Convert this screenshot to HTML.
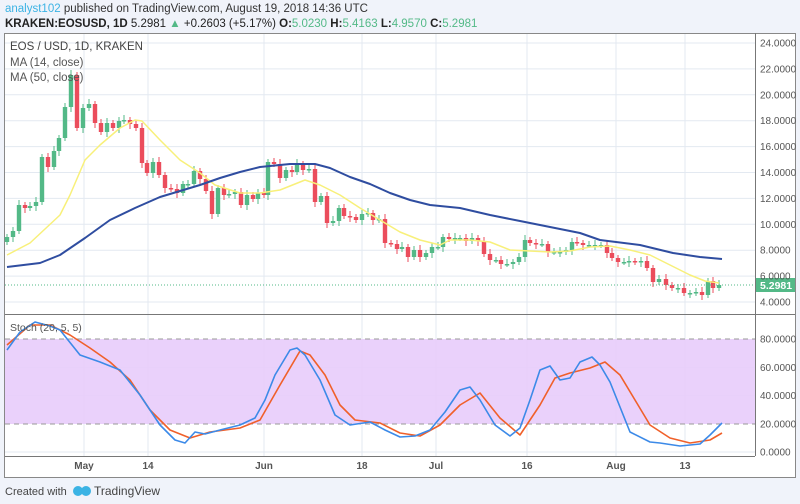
<!DOCTYPE html>
<html><head><meta charset="utf-8"><style>
body{margin:0;width:800px;height:504px;background:#f0f3fa;overflow:hidden;font-family:"Liberation Sans",sans-serif;}
</style></head><body>
<svg id="s" width="800" height="504" xmlns="http://www.w3.org/2000/svg" style="position:absolute;left:0;top:0">
<rect x="0" y="0" width="800" height="504" fill="#f0f3fa"/>
<text x="5" y="12" font-size="11.5" fill="#333"><tspan fill="#3bb3e4">analyst102</tspan> published on TradingView.com, August 19, 2018 14:36 UTC</text>
<text x="5" y="27" font-size="11.5" fill="#222"><tspan font-weight="bold">KRAKEN:EOSUSD, 1D</tspan> 5.2981 <tspan fill="#53b987">▲</tspan> +0.2603 (+5.17%) <tspan font-weight="bold">O:</tspan><tspan fill="#53b987">5.0230</tspan> <tspan font-weight="bold">H:</tspan><tspan fill="#53b987">5.4163</tspan> <tspan font-weight="bold">L:</tspan><tspan fill="#53b987">4.9570</tspan> <tspan font-weight="bold">C:</tspan><tspan fill="#53b987">5.2981</tspan></text>
<rect x="4.5" y="33.5" width="791" height="444" fill="#fff" stroke="#888"/>
<g id="grid"></g>
<rect x="5" y="339" width="750" height="85" fill="#e8ccfb" opacity="0.9"/>
<line x1="5" y1="339" x2="755" y2="339" stroke="#999" stroke-dasharray="5,4"/>
<line x1="5" y1="424" x2="755" y2="424" stroke="#999" stroke-dasharray="5,4"/>
<g id="c"></g>
<line x1="755.5" y1="33" x2="755.5" y2="456" stroke="#777"/>
<line x1="5" y1="314.5" x2="795" y2="314.5" stroke="#777"/>
<line x1="5" y1="456.5" x2="755" y2="456.5" stroke="#777"/>
<g id="ax" font-size="10" fill="#555"></g>
<text x="10" y="50" font-size="11.5" fill="#444">EOS / USD, 1D, KRAKEN</text>
<text x="10" y="66" font-size="11.5" fill="#555">MA (14, close)</text>
<text x="10" y="81" font-size="11.5" fill="#555">MA (50, close)</text>
<text x="10" y="331" font-size="10.5" fill="#555">Stoch (20, 5, 5)</text>
<text x="5" y="495" font-size="11" fill="#444">Created with</text>
<circle cx="78" cy="491" r="5" fill="#3bb3e4"/><circle cx="86" cy="491" r="5" fill="#3bb3e4"/>
<text x="94" y="495" font-size="12" fill="#444">TradingView</text>
</svg>
<script>
var S=document.getElementById('s'),ns='http://www.w3.org/2000/svg';
function el(p,t,a,tx){var e=document.createElementNS(ns,t);for(var k in a)e.setAttribute(k,a[k]);if(tx)e.textContent=tx;document.getElementById(p).appendChild(e);return e;}
function py(p){return 43+(24-p)*12.95;}
var gc='#e3e9f1';
for(var p=4;p<=24;p+=2){var y=py(p);el('grid','line',{x1:5,x2:755,y1:y,y2:y,stroke:gc});el('ax','text',{x:760,y:y+3.5},p.toFixed(4));}
[0,20,40,60,80].forEach(function(v){var y=452-1.41*v;if(v!=20&&v!=80)el('grid','line',{x1:5,x2:755,y1:y,y2:y,stroke:gc});el('ax','text',{x:760,y:y+3.5},v.toFixed(4));});
[[84,'May'],[148,'14'],[264,'Jun'],[362,'18'],[436,'Jul'],[527,'16'],[616,'Aug'],[685,'13']].forEach(function(t){el('grid','line',{x1:t[0],x2:t[0],y1:34,y2:456,stroke:gc});el('ax','text',{x:t[0],y:469,'text-anchor':'middle','font-weight':'bold'},t[1]);});
var d=[[7,237],[13,231],[19,205],[25,208],[30,206],[36,202],[42,157],[48,167],[54,151],[59,138],[65,107],[71,75],[77,128],[83,108],[89,104],[95,123],[101,132],[107,123],[113,128],[119,121],[124,120],[130,124],[136,128],[142,163],[147,173],[153,162],[159,175],[165,188],[171,189],[177,193],[183,184],[188,184],[194,171],[200,179],[206,191],[212,214],[218,188],[224,195],[229,194],[235,192],[241,205],[247,195],[253,199],[258,193],[264,195],[268,162],[274,164],[280,178],[286,170],[292,172],[297,164],[303,170],[309,169],[315,202],[321,196],[327,223],[333,221],[339,208],[344,216],[350,217],[356,220],[362,214],[368,213],[373,220],[379,219],[385,243],[391,244],[397,249],[402,247],[408,257],[414,250],[420,257],[426,253],[432,247],[438,247],[443,237],[449,239],[455,238],[460,238],[466,241],[472,238],[478,241],[484,254],[490,260],[496,260],[501,264],[507,264],[513,262],[519,257],[525,240],[530,243],[536,244],[542,244],[548,252],[554,252],[560,252],[566,250],[572,242],[577,243],[583,245],[589,245],[595,245],[601,245],[607,253],[612,258],[618,262],[624,262],[629,261],[635,262],[641,261],[647,268],[653,282],[659,279],[666,285],[672,288],[678,288],[684,293],[690,293],[696,292],[702,295],[708,281],[713,288],[719,285]];
var prev=242;
d.forEach(function(c,i){var o=prev,cl=c[1];var up=cl<=o;var col=up?'#53b987':'#eb4d5c';var t=Math.min(o,cl),b=Math.max(o,cl);
el('c','line',{x1:c[0],x2:c[0],y1:t-3-(i%3),y2:b+3+(i%2)*2,stroke:col,'stroke-width':1});
el('c','rect',{x:c[0]-2.2,y:t,width:4.4,height:Math.max(b-t,1.5),fill:col});prev=cl;});
function pl(pts,col,w){el('c','polyline',{points:pts.map(function(p){return p.join(',')}).join(' '),fill:'none',stroke:col,'stroke-width':w,'stroke-linejoin':'round'});}
pl([[7,255],[30,243],[60,215],[70,195],[85,160],[100,145],[120,128],[135,120],[142,121],[160,140],[180,160],[200,173],[215,185],[240,193],[260,193],[280,190],[305,180],[320,185],[340,195],[360,208],[380,220],[400,232],[420,240],[440,245],[450,240],[470,240],[490,242],[510,250],[530,251],[550,252],[570,251],[590,247],[610,246],[630,250],[650,255],[670,265],[690,275],[705,281],[719,283]],'#f8f07a',1.5);
pl([[7,267],[40,263],[60,255],[85,238],[110,220],[135,208],[160,197],[180,191],[200,185],[220,178],[240,172],[260,167],[290,164],[315,164],[330,168],[350,177],[370,184],[390,193],[410,200],[430,205],[460,208],[490,215],[520,221],[550,227],[580,233],[600,240],[640,245],[673,253],[700,257],[722,259]],'#2f4da0',2);
el('c','line',{x1:5,x2:755,y1:285,y2:285,stroke:'#53b987','stroke-dasharray':'1,2'});
pl([[7,345],[30,325],[50,325],[70,335],[90,348],[110,362],[130,380],[150,410],[170,430],[190,438],[210,432],[240,428],[260,420],[280,385],[300,351],[310,355],[325,375],[340,405],[355,420],[380,423],[400,433],[420,436],[440,425],[460,405],[480,393],[500,418],[520,435],[540,405],[555,378],[570,373],[590,368],[605,362],[620,375],[635,400],[650,425],[670,438],[690,443],[710,440],[722,433]],'#f0602a',1.6);
pl([[7,350],[20,332],[35,322],[50,326],[60,330],[80,355],[100,362],[120,370],[140,395],[160,425],[175,440],[185,443],[195,432],[205,434],[220,430],[240,425],[255,418],[265,400],[275,375],[290,350],[297,348],[305,355],[320,380],[335,415],[350,425],[370,422],[385,430],[400,437],[415,436],[430,430],[445,412],[460,390],[470,387],[480,400],[495,425],[510,436],[520,428],[530,400],[540,370],[550,366],[560,380],[570,378],[580,362],[592,357],[600,365],[610,382],[630,432],[650,442],[660,443],[680,446],[700,444],[710,435],[722,423]],'#3c8ae8',1.6);
el('c','rect',{x:756,y:278,width:39,height:14,fill:'#53b987'});
el('c','text',{x:760,y:289,'font-size':10.5,fill:'#fff','font-weight':'bold'},'5.2981');
</script>
</body></html>
